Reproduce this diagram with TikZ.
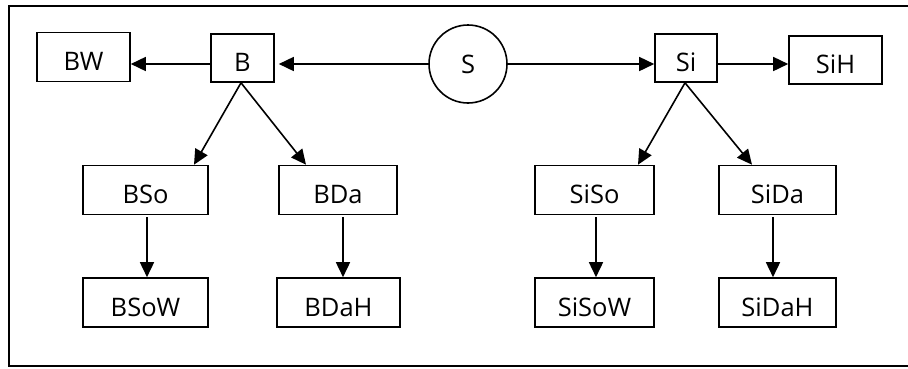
\documentclass[tikz,border=0pt]{standalone}
\usepackage{fontspec}
\setmainfont{Open Sans}
\usetikzlibrary{arrows.meta,calc}
\begin{document}
\begin{tikzpicture}[x=1pt,y=-1pt,
  box/.style={draw, line width=1.6pt, inner sep=0pt, minimum height=49pt,
    text height=27pt, text depth=0pt,
    font=\fontsize{25.5}{29}\selectfont},
  ring/.style={draw, circle, line width=1.6pt, inner sep=0pt, minimum size=78pt,
    font=\fontsize{25.5}{29}\selectfont},
  arr/.style={line width=1.6pt, -{Triangle[length=15pt,width=14pt]}}]
\useasboundingbox (0,0) rectangle (908,368);
% frame, open on the right
\draw[line width=2.2pt] (915,6) -- (9,6) -- (9,366) -- (915,366);

% top row
\node[box, minimum width=93pt] (BW)  at (83.5,57) {BW};
\node[box, minimum width=63pt, minimum height=48pt] (B)  at (242.5,58) {B};
\node[ring] (S) at (468,64) {S};
\node[box, minimum width=62pt, minimum height=48pt] (Si) at (686,58) {Si};
\node[box, minimum width=93pt, minimum height=48pt] (SiH) at (835.5,60) {SiH};

% middle row
\node[box, minimum width=125pt] (BSo)  at (145.5,190) {BSo};
\node[box, minimum width=118pt] (BDa)  at (338,190) {BDa};
\node[box, minimum width=119pt] (SiSo) at (594.5,190) {SiSo};
\node[box, minimum width=117pt] (SiDa) at (777.5,190) {SiDa};

% bottom row
\node[box, minimum width=125pt] (BSoW)  at (145.5,302.5) {BSoW};
\node[box, minimum width=123pt] (BDaH)  at (338.5,302.5) {BDaH};
\node[box, minimum width=119pt] (SiSoW) at (594.5,302.5) {SiSoW};
\node[box, minimum width=117pt] (SiDaH) at (777.5,302.5) {SiDaH};

% horizontal connectors
\draw[arr] (S.west) -- ([xshift=4pt]B.east |- S.west);
\draw[arr] (B.west |- S.west) -- (BW.east |- S.west);
\draw[arr] (S.east) -- (Si.west |- S.east);
\draw[arr] (Si.east |- S.east) -- (SiH.west |- S.east);

% branches
\draw[arr] ([xshift=-1.5pt]B.south) -- ([xshift=48.5pt]BSo.north);
\draw[arr] ([xshift=-1.5pt]B.south) -- ([xshift=-32pt]BDa.north);
\draw[arr] ([xshift=-1pt]Si.south) -- ([xshift=43.5pt]SiSo.north);
\draw[arr] ([xshift=-1pt]Si.south) -- ([xshift=-25.5pt]SiDa.north);

% vertical connectors
\draw[arr] ([xshift=1.5pt,yshift=-2pt]BSo.south) -- ([xshift=1.5pt]BSoW.north);
\draw[arr] ([xshift=5pt,yshift=-2pt]BDa.south) -- ([xshift=4.5pt]BDaH.north);
\draw[arr] ([xshift=1.5pt,yshift=-2pt]SiSo.south) -- ([xshift=1.5pt]SiSoW.north);
\draw[arr] ([xshift=-4.5pt,yshift=-2pt]SiDa.south) -- ([xshift=-4.5pt]SiDaH.north);
\end{tikzpicture}
\end{document}
